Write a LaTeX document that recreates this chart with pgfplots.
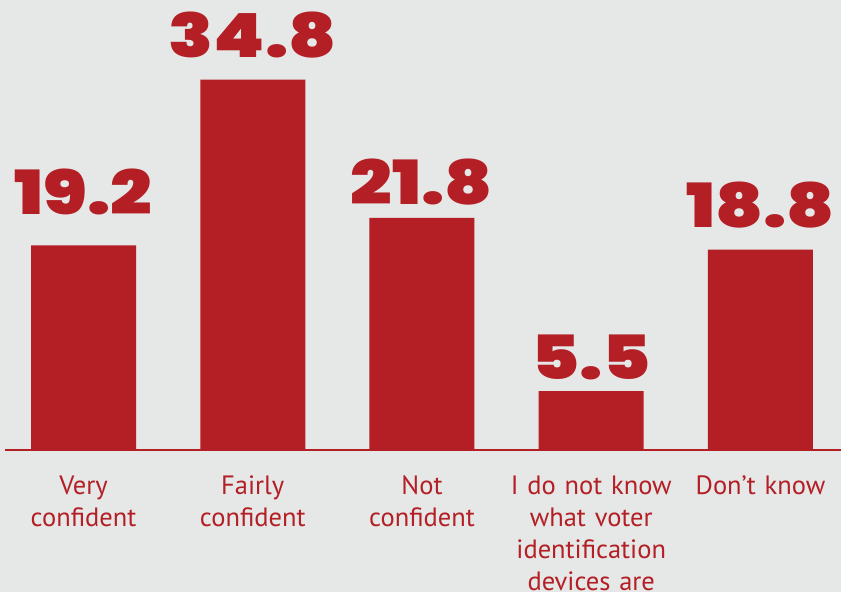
\documentclass[border=0pt]{standalone}
\usepackage{pgfplots}
\pgfplotsset{compat=1.18}
\usepackage{fontspec}
\newfontfamily\catfont{PT Sans}
\newfontfamily\numfont[FakeStretch=1.2]{Poppins Black}
\definecolor{bg}{HTML}{E6E7E7}
\definecolor{barred}{HTML}{B31F25}
\begin{document}
\begin{tikzpicture}[x=1pt,y=1pt]
\fill[bg] (0,0) rectangle (841,592);
\begin{axis}[
  at={(5pt,142.5pt)}, anchor=south west,
  scale only axis, width=836pt, height=449.5pt,
  xmin=-0.464, xmax=4.476, ymin=0, ymax=42.29,
  axis x line*=bottom, axis y line=none,
  x axis line style={barred, line width=2pt, -},
  xtick={0,1,2,3,4},
  xticklabels={{Very\\confident},{Fairly\\confident},{Not\\confident},{I do not know\\what voter\\identification\\devices are},{Don’t know}},
  major tick length=0pt,
  xticklabel style={font=\catfont\fontsize{26.5}{32}\selectfont, text=barred, align=center, text width=170pt, inner sep=0pt, yshift=-26pt},
  clip=false,
]
\addplot[ybar, bar width=105pt, fill=barred, draw=none] coordinates {(0,19.2) (1,34.8) (2,21.8) (3,5.5) (4,18.8)};
\addplot[only marks, mark=none, nodes near coords, point meta=explicit symbolic,
  nodes near coords style={font=\numfont\fontsize{61}{61}\selectfont, text=barred, anchor=center, inner sep=0pt}]
  table[meta=label] {
x y label
0 24.27 19.2
1 38.95 34.8
2 25.16 21.8
3 8.65 5.5
4 23.0 18.8
};
\end{axis}
\pgfresetboundingbox
\path (0,0) rectangle (841,592);
\end{tikzpicture}
\end{document}
